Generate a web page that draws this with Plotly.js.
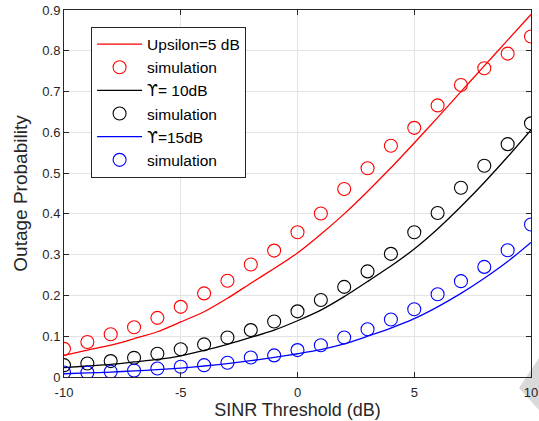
<!DOCTYPE html>
<html>
<head>
<meta charset="utf-8">
<script src="https://cdn.plot.ly/plotly-3.0.1.min.js"></script>
<style>html,body{margin:0;padding:0;background:#fff}#chart{width:539px;height:421px}</style>
</head>
<body>
<div id="chart"></div>
<script>
const sinrDb = [-10,-9,-8,-7,-6,-5,-4,-3,-2,-1,0,1,2,3,4,5,6,7,8,9,10];

const theory5dB  = [0.053,0.066,0.078,0.094,0.111,0.135,0.160,0.193,0.230,0.266,0.304,0.350,0.400,0.455,0.513,0.574,0.636,0.700,0.763,0.826,0.889];
const sim5dB     = [0.069,0.086,0.105,0.122,0.145,0.172,0.205,0.236,0.276,0.310,0.355,0.401,0.461,0.512,0.567,0.611,0.666,0.716,0.757,0.793,0.835];

const theory10dB = [0.023,0.027,0.031,0.037,0.043,0.052,0.065,0.080,0.097,0.115,0.138,0.164,0.197,0.234,0.272,0.314,0.363,0.418,0.477,0.540,0.606];
const sim10dB    = [0.029,0.033,0.039,0.047,0.057,0.068,0.080,0.097,0.115,0.136,0.161,0.189,0.221,0.259,0.302,0.355,0.402,0.464,0.518,0.571,0.622];

const theory15dB = [0.008,0.010,0.012,0.015,0.018,0.022,0.027,0.033,0.040,0.048,0.057,0.067,0.081,0.100,0.120,0.143,0.172,0.205,0.242,0.283,0.330];
const sim15dB    = [0.011,0.011,0.013,0.016,0.021,0.025,0.029,0.035,0.048,0.053,0.066,0.078,0.097,0.117,0.141,0.166,0.203,0.235,0.270,0.311,0.374];

const UPS = '<span style="font-family:\'DejaVu Sans\'">\u03D2</span>';
const names = ['Upsilon=5 dB','simulation',UPS+'= 10dB','simulation',UPS+'=15dB','simulation'];
const xTicks = [-10,-5,0,5,10];
const yTicks = [0,0.1,0.2,0.3,0.4,0.5,0.6,0.7,0.8,0.9];

const RED='#ff0000', BLK='#000000', BLU='#0000ff';
function line(y,c,n){return {x:sinrDb,y:y,mode:'lines',name:n,line:{color:c,width:1.3,shape:'spline',smoothing:0.6},type:'scatter'};}
function sim(y,c,n){return {x:sinrDb,y:y,mode:'markers',name:n,marker:{symbol:'circle-open',size:13,color:c,line:{width:1.1,color:c}},type:'scatter'};}

const data = [
  line(theory5dB,RED,names[0]), sim(sim5dB,RED,names[1]),
  line(theory10dB,BLK,names[2]), sim(sim10dB,BLK,names[3]),
  line(theory15dB,BLU,names[4]), sim(sim15dB,BLU,names[5])
];

const axisCommon = {
  showline:true, mirror:'ticks', linecolor:'#262626', linewidth:1,
  ticks:'inside', ticklen:5, tickcolor:'#262626',
  showgrid:true, gridcolor:'#e3e3e3', gridwidth:1, zeroline:false,
  tickfont:{family:'Liberation Sans, Arial, sans-serif', size:13, color:'#262626'}
};

const layout = {
  width:539, height:421,
  margin:{l:64,r:8,t:10,b:44},
  paper_bgcolor:'#ffffff', plot_bgcolor:'#ffffff',
  font:{family:'Liberation Sans, Arial, sans-serif', color:'#262626'},
  showlegend:true,
  legend:{x:0.058, y:0.955, xanchor:'left', yanchor:'top', bgcolor:'#ffffff',
    bordercolor:'#262626', borderwidth:1, tracegroupgap:0, itemwidth:45,
    font:{family:'Liberation Sans, Arial, sans-serif', size:15.5, color:'#000000'}},
  xaxis:Object.assign({}, axisCommon, {range:[-10,10], tickvals:xTicks, ticktext:xTicks.map(String),
    ticklabelstandoff:3,
    title:{text:'SINR Threshold (dB)', font:{size:18, color:'#262626'}, standoff:2}}),
  yaxis:Object.assign({}, axisCommon, {range:[0,0.9], tickvals:yTicks, ticktext:yTicks.map(v=>String(v)),
    title:{text:'Outage Probability', font:{size:19, color:'#262626'}, standoff:9}}),
  shapes:[{type:'path', xref:'paper', yref:'paper', layer:'below',
    path:'M 1.0171 0.0518 L 0.9743 -0.0300 L 1.0171 -0.0899 Z',
    fillcolor:'#d9d9d9', line:{width:0}}]
};

Plotly.newPlot('chart', data, layout, {displayModeBar:false, staticPlot:true});
</script>
</body>
</html>
